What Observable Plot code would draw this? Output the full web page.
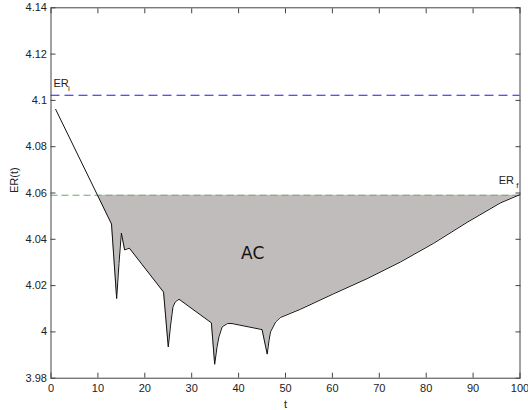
<!DOCTYPE html>
<html>
<head>
<meta charset="utf-8">
<script src="https://cdn.jsdelivr.net/npm/d3@7"></script>
<script src="https://cdn.jsdelivr.net/npm/@observablehq/plot@0.6"></script>
<style>
  html, body { margin: 0; padding: 0; background: #fff; }
  #chart { width: 528px; height: 410px; }
</style>
</head>
<body>
<div id="chart"></div>
<script>
// ER(t) trajectory
const tValues  = [1, 10, 12.9, 14.0, 14.5, 15.0, 15.7, 16.7, 24.0, 25.0, 25.5, 26.0, 26.5, 27.3,
                  34.2, 34.9, 35.4, 35.8, 36.5, 37.6, 38.6, 45.0, 46.1, 46.5, 46.8, 47.9, 48.9,
                  53.2, 60.3, 67.4, 74.5, 81.6, 88.7, 95.8, 100];
const erValues = [4.0961, 4.0587, 4.0466, 4.0144, 4.0296, 4.0427, 4.0354, 4.0362, 4.0172, 3.9935, 4.0029, 4.0108, 4.0130, 4.0141,
                  4.0039, 3.9860, 3.9935, 3.9978, 4.0022, 4.0036, 4.0036, 4.0010, 3.9904, 3.9965, 4.0000, 4.0043, 4.0062,
                  4.0098, 4.0165, 4.0230, 4.0302, 4.0383, 4.0473, 4.0557, 4.0593];

// reference levels
const ERi = 4.1022;
const ERf = 4.0590;

// axis ticks and their labels
const xTicks = [0, 10, 20, 30, 40, 50, 60, 70, 80, 90, 100];
const xTickLabels = ["0", "10", "20", "30", "40", "50", "60", "70", "80", "90", "100"];
const yTicks = [3.98, 4.00, 4.02, 4.04, 4.06, 4.08, 4.10, 4.12, 4.14];
const yTickLabels = ["3.98", "4", "4.02", "4.04", "4.06", "4.08", "4.1", "4.12", "4.14"];

const curve = tValues.map((t, i) => ({t, er: erValues[i]}));
const below = curve.filter(d => d.t >= 10);

const ink = "#222";
const edge = "#444";

const chart = Plot.plot({
  width: 528,
  height: 410,
  marginLeft: 50.5,
  marginRight: 8.5,
  marginTop: 7.3,
  marginBottom: 32.3,
  style: {fontFamily: "'Liberation Sans', Arial, Helvetica, sans-serif", fontSize: "11px", color: ink, background: "#fff"},
  x: {domain: [0, 100]},
  y: {domain: [3.98, 4.14]},
  marks: [
    // area between the curve and the final level
    Plot.areaY(below, {x: "t", y1: () => ERf, y2: "er", fill: "#c0bcbc"}),
    Plot.ruleY([ERi], {stroke: "#1a1aff", strokeWidth: 1.1, strokeDasharray: "9,5"}),
    Plot.ruleY([ERf], {stroke: "#6aaa66", strokeWidth: 1.1, strokeDasharray: "7,4"}),
    Plot.line(curve, {x: "t", y: "er", stroke: "#111", strokeWidth: 1}),
    Plot.frame({stroke: edge}),
    // axes with inward ticks on all four sides
    Plot.axisX({anchor: "bottom", ticks: xTicks, tickSize: -5, tickPadding: 11, stroke: edge,
                tickFormat: (d, i) => xTickLabels[i], label: null, fill: ink}),
    Plot.axisX({anchor: "top", ticks: xTicks, tickSize: -5, stroke: edge, tickFormat: () => "", label: null}),
    Plot.axisY({anchor: "left", ticks: yTicks, tickSize: -5, tickPadding: 9, stroke: edge,
                tickFormat: (d, i) => yTickLabels[i], label: null, fill: ink}),
    Plot.axisY({anchor: "right", ticks: yTicks, tickSize: -5, stroke: edge, tickFormat: () => "", label: null}),
    // axis titles
    Plot.text(["t"], {frameAnchor: "bottom", dy: 26.5, lineAnchor: "middle", fill: ink}),
    Plot.text(["ER(t)"], {frameAnchor: "left", dx: -36.5, rotate: -90, lineAnchor: "middle", fill: ink}),
    // level labels
    Plot.text(["ER"], {x: () => 0, y: () => ERi, dx: 2.5, dy: -12, textAnchor: "start", lineAnchor: "middle", fill: ink}),
    Plot.text(["i"], {x: () => 0, y: () => ERi, dx: 17, dy: -6.5, textAnchor: "start", lineAnchor: "middle", fontSize: 8, fill: ink}),
    Plot.text(["ER"], {x: () => 100, y: () => ERf, dx: -6, dy: -15, textAnchor: "end", lineAnchor: "middle", fill: ink}),
    Plot.text(["f"], {x: () => 100, y: () => ERf, dx: -1.5, dy: -9.5, textAnchor: "end", lineAnchor: "middle", fontSize: 8, fill: ink}),
    Plot.text(["AC"], {x: () => 43, y: () => 4.034, fontSize: 17, fontFamily: "'DejaVu Sans', sans-serif", lineAnchor: "middle", fill: "#111"})
  ]
});

document.getElementById("chart").appendChild(chart);
</script>
</body>
</html>
